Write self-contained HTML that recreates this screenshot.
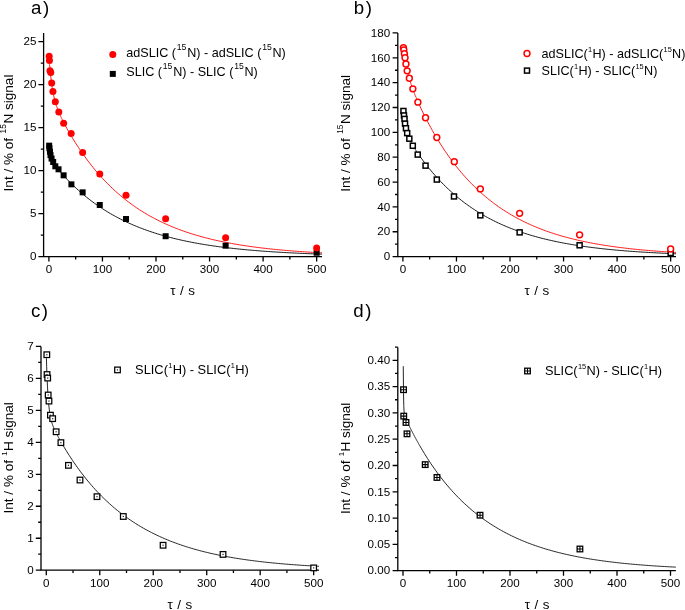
<!DOCTYPE html>
<html><head><meta charset="utf-8"><title>Figure</title><style>html,body{margin:0;padding:0;background:#fff}svg{display:block}</style></head><body>
<svg width="685" height="610" viewBox="0 0 685 610" font-family='"Liberation Sans", sans-serif' fill="#000">
<rect width="685" height="610" fill="#fff"/>
<path d="M43.6 33V256.6H322" fill="none" stroke="#000" stroke-width="1.3" stroke-linejoin="miter"/>
<path d="M48.9 256.6v5M102.45 256.6v5M156 256.6v5M209.55 256.6v5M263.1 256.6v5M316.65 256.6v5M75.67 256.6v2.8M129.22 256.6v2.8M182.78 256.6v2.8M236.32 256.6v2.8M289.88 256.6v2.8M43.6 256.6h-5.2M43.6 213.6h-5.2M43.6 170.6h-5.2M43.6 127.6h-5.2M43.6 84.6h-5.2M43.6 41.6h-5.2M43.6 235.1h-2.8M43.6 192.1h-2.8M43.6 149.1h-2.8M43.6 106.1h-2.8M43.6 63.1h-2.8" fill="none" stroke="#000" stroke-width="1.3"/>
<g font-size="11.4" text-anchor="middle">
<text transform="translate(48.9 273.3) scale(1.02 1)">0</text>
<text transform="translate(102.45 273.3) scale(1.02 1)">100</text>
<text transform="translate(156 273.3) scale(1.02 1)">200</text>
<text transform="translate(209.55 273.3) scale(1.02 1)">300</text>
<text transform="translate(263.1 273.3) scale(1.02 1)">400</text>
<text transform="translate(316.65 273.3) scale(1.02 1)">500</text>
</g>
<g font-size="11.4" text-anchor="end">
<text transform="translate(36.4 260.3) scale(1.02 1)">0</text>
<text transform="translate(36.4 217.3) scale(1.02 1)">5</text>
<text transform="translate(36.4 174.3) scale(1.02 1)">10</text>
<text transform="translate(36.4 131.3) scale(1.02 1)">15</text>
<text transform="translate(36.4 88.3) scale(1.02 1)">20</text>
<text transform="translate(36.4 45.3) scale(1.02 1)">25</text>
</g>
<polyline points="49.38,147.43 49.64,149.51 49.9,151.31 50.16,152.88 50.42,154.26 50.68,155.46 50.94,156.53 51.2,157.48 51.46,158.34 51.72,159.11 51.98,159.81 52.24,160.45 52.5,161.04 52.76,161.58 53.02,162.09 53.28,162.58 53.54,163.03 53.8,163.47 54.06,163.88 54.32,164.28 54.58,164.67 54.84,165.05 55.1,165.41 55.36,165.77 55.62,166.12 55.87,166.46 56.13,166.8 56.39,167.14 56.65,167.47 56.91,167.79 57.17,168.11 57.43,168.43 57.69,168.75 57.95,169.07 58.21,169.38 58.47,169.69 58.73,170 58.99,170.31 59.25,170.61 59.51,170.92 59.77,171.22 60.03,171.52 60.29,171.82 60.55,172.12 60.81,172.42 61.07,172.71 61.33,173.01 61.59,173.3 61.85,173.59 62.11,173.88 62.37,174.18 62.63,174.46 62.89,174.75 63.15,175.04 63.41,175.33 63.67,175.61 63.93,175.9 64.19,176.18 64.45,176.46 64.71,176.74 64.97,177.02 65.5,177.6 67.11,179.3 68.73,180.97 70.34,182.61 71.95,184.2 73.57,185.77 75.18,187.3 76.79,188.79 78.41,190.26 80.02,191.69 81.63,193.09 83.25,194.46 84.86,195.8 86.47,197.12 88.09,198.4 89.7,199.66 91.31,200.89 92.93,202.09 94.54,203.27 96.15,204.42 97.77,205.55 99.38,206.65 100.99,207.73 102.6,208.78 104.22,209.82 105.83,210.83 107.44,211.81 109.06,212.78 110.67,213.73 112.28,214.65 113.9,215.56 115.51,216.45 117.12,217.31 118.74,218.16 120.35,218.99 121.96,219.8 123.58,220.6 125.19,221.38 126.8,222.14 128.42,222.88 130.03,223.61 131.64,224.32 133.26,225.02 134.87,225.7 136.48,226.37 138.1,227.02 139.71,227.66 141.32,228.28 142.94,228.89 144.55,229.49 146.16,230.08 147.78,230.65 149.39,231.21 151,231.76 152.62,232.3 154.23,232.82 155.84,233.33 157.45,233.84 159.07,234.33 160.68,234.81 162.29,235.28 163.91,235.74 165.52,236.19 167.13,236.63 168.75,237.06 170.36,237.48 171.97,237.9 173.59,238.3 175.2,238.7 176.81,239.08 178.43,239.46 180.04,239.83 181.65,240.19 183.27,240.55 184.88,240.89 186.49,241.23 188.11,241.57 189.72,241.89 191.33,242.21 192.95,242.52 194.56,242.82 196.17,243.12 197.79,243.41 199.4,243.7 201.01,243.97 202.63,244.25 204.24,244.51 205.85,244.77 207.47,245.03 209.08,245.28 210.69,245.52 212.3,245.76 213.92,246 215.53,246.23 217.14,246.45 218.76,246.67 220.37,246.88 221.98,247.09 223.6,247.3 225.21,247.5 226.82,247.7 228.44,247.89 230.05,248.08 231.66,248.26 233.28,248.44 234.89,248.62 236.5,248.79 238.12,248.96 239.73,249.12 241.34,249.28 242.96,249.44 244.57,249.6 246.18,249.75 247.8,249.9 249.41,250.04 251.02,250.18 252.64,250.32 254.25,250.46 255.86,250.59 257.48,250.72 259.09,250.85 260.7,250.97 262.32,251.09 263.93,251.21 265.54,251.33 267.15,251.44 268.77,251.55 270.38,251.66 271.99,251.77 273.61,251.87 275.22,251.97 276.83,252.07 278.45,252.17 280.06,252.27 281.67,252.36 283.29,252.45 284.9,252.54 286.51,252.63 288.13,252.72 289.74,252.8 291.35,252.88 292.97,252.96 294.58,253.04 296.19,253.12 297.81,253.19 299.42,253.27 301.03,253.34 302.65,253.41 304.26,253.48 305.87,253.55 307.49,253.61 309.1,253.68 310.71,253.74 312.33,253.8 313.94,253.86 315.55,253.92 317.17,253.98 318.78,254.03 320.39,254.09 322,254.14" fill="none" stroke="#000" stroke-width="0.9"/>
<polyline points="49.38,61.3 49.64,64.6 49.9,67.67 50.16,70.52 50.42,73.18 50.68,75.66 50.94,77.98 51.2,80.15 51.46,82.19 51.72,84.09 51.98,85.89 52.24,87.57 52.5,89.17 52.76,90.67 53.02,92.09 53.28,93.43 53.54,94.71 53.8,95.92 54.06,97.08 54.32,98.18 54.58,99.24 54.84,100.25 55.1,101.21 55.36,102.14 55.62,103.04 55.87,103.9 56.13,104.74 56.39,105.54 56.65,106.33 56.91,107.09 57.17,107.82 57.43,108.54 57.69,109.24 57.95,109.92 58.21,110.59 58.47,111.24 58.73,111.88 58.99,112.51 59.25,113.13 59.51,113.73 59.77,114.33 60.03,114.91 60.29,115.49 60.55,116.06 60.81,116.63 61.07,117.18 61.33,117.73 61.59,118.27 61.85,118.81 62.11,119.34 62.37,119.87 62.63,120.39 62.89,120.91 63.15,121.42 63.41,121.93 63.67,122.44 63.93,122.94 64.19,123.43 64.45,123.93 64.71,124.42 64.97,124.91 65.5,125.91 67.11,128.84 68.73,131.7 70.34,134.47 71.95,137.18 73.57,139.82 75.18,142.4 76.79,144.92 78.41,147.39 80.02,149.8 81.63,152.15 83.25,154.46 84.86,156.71 86.47,158.92 88.09,161.07 89.7,163.18 91.31,165.24 92.93,167.26 94.54,169.23 96.15,171.16 97.77,173.04 99.38,174.89 100.99,176.69 102.6,178.45 104.22,180.18 105.83,181.87 107.44,183.52 109.06,185.13 110.67,186.71 112.28,188.25 113.9,189.76 115.51,191.23 117.12,192.67 118.74,194.08 120.35,195.46 121.96,196.81 123.58,198.13 125.19,199.42 126.8,200.68 128.42,201.92 130.03,203.13 131.64,204.31 133.26,205.46 134.87,206.59 136.48,207.69 138.1,208.77 139.71,209.83 141.32,210.86 142.94,211.87 144.55,212.86 146.16,213.82 147.78,214.76 149.39,215.69 151,216.59 152.62,217.47 154.23,218.34 155.84,219.18 157.45,220.01 159.07,220.82 160.68,221.6 162.29,222.38 163.91,223.13 165.52,223.87 167.13,224.59 168.75,225.3 170.36,225.99 171.97,226.67 173.59,227.33 175.2,227.97 176.81,228.6 178.43,229.22 180.04,229.83 181.65,230.42 183.27,230.99 184.88,231.56 186.49,232.11 188.11,232.65 189.72,233.18 191.33,233.7 192.95,234.2 194.56,234.7 196.17,235.18 197.79,235.65 199.4,236.12 201.01,236.57 202.63,237.01 204.24,237.44 205.85,237.87 207.47,238.28 209.08,238.68 210.69,239.08 212.3,239.47 213.92,239.84 215.53,240.21 217.14,240.57 218.76,240.93 220.37,241.27 221.98,241.61 223.6,241.94 225.21,242.27 226.82,242.58 228.44,242.89 230.05,243.19 231.66,243.49 233.28,243.78 234.89,244.06 236.5,244.34 238.12,244.61 239.73,244.87 241.34,245.13 242.96,245.39 244.57,245.63 246.18,245.88 247.8,246.11 249.41,246.34 251.02,246.57 252.64,246.79 254.25,247.01 255.86,247.22 257.48,247.43 259.09,247.63 260.7,247.83 262.32,248.02 263.93,248.21 265.54,248.4 267.15,248.58 268.77,248.75 270.38,248.93 271.99,249.1 273.61,249.26 275.22,249.42 276.83,249.58 278.45,249.74 280.06,249.89 281.67,250.04 283.29,250.18 284.9,250.32 286.51,250.46 288.13,250.6 289.74,250.73 291.35,250.86 292.97,250.99 294.58,251.11 296.19,251.23 297.81,251.35 299.42,251.46 301.03,251.58 302.65,251.69 304.26,251.8 305.87,251.9 307.49,252.01 309.1,252.11 310.71,252.21 312.33,252.3 313.94,252.4 315.55,252.49 317.17,252.58 318.78,252.67 320.39,252.76 322,252.84" fill="none" stroke="#ff0000" stroke-width="0.9"/>
<rect x="46.17" y="142.66" width="6" height="6" fill="#000"/>
<rect x="46.44" y="145.24" width="6" height="6" fill="#000"/>
<rect x="46.97" y="148.68" width="6" height="6" fill="#000"/>
<rect x="47.51" y="152.12" width="6" height="6" fill="#000"/>
<rect x="48.58" y="155.56" width="6" height="6" fill="#000"/>
<rect x="50.18" y="159" width="6" height="6" fill="#000"/>
<rect x="52.33" y="163.3" width="6" height="6" fill="#000"/>
<rect x="55.54" y="166.31" width="6" height="6" fill="#000"/>
<rect x="60.63" y="172.33" width="6" height="6" fill="#000"/>
<rect x="68.39" y="181.36" width="6" height="6" fill="#000"/>
<rect x="79.64" y="189.36" width="6" height="6" fill="#000"/>
<rect x="96.77" y="202" width="6" height="6" fill="#000"/>
<rect x="123.01" y="216.02" width="6" height="6" fill="#000"/>
<rect x="162.64" y="233.22" width="6" height="6" fill="#000"/>
<rect x="222.62" y="242.68" width="6" height="6" fill="#000"/>
<rect x="313.65" y="249.73" width="6" height="6" fill="#000"/>
<circle cx="49.17" cy="56.22" r="3.5" fill="#ff0000"/>
<circle cx="49.44" cy="60.52" r="3.5" fill="#ff0000"/>
<circle cx="49.97" cy="70.84" r="3.5" fill="#ff0000"/>
<circle cx="50.77" cy="72.56" r="3.5" fill="#ff0000"/>
<circle cx="51.68" cy="82.88" r="3.5" fill="#ff0000"/>
<circle cx="52.92" cy="91.48" r="3.5" fill="#ff0000"/>
<circle cx="55.33" cy="101.8" r="3.5" fill="#ff0000"/>
<circle cx="58.81" cy="112.12" r="3.5" fill="#ff0000"/>
<circle cx="63.63" cy="123.3" r="3.5" fill="#ff0000"/>
<circle cx="71.18" cy="133.62" r="3.5" fill="#ff0000"/>
<circle cx="82.64" cy="152.54" r="3.5" fill="#ff0000"/>
<circle cx="99.77" cy="174.04" r="3.5" fill="#ff0000"/>
<circle cx="126.01" cy="195.28" r="3.5" fill="#ff0000"/>
<circle cx="165.64" cy="218.76" r="3.5" fill="#ff0000"/>
<circle cx="225.62" cy="237.68" r="3.5" fill="#ff0000"/>
<circle cx="316.65" cy="248" r="3.5" fill="#ff0000"/>
<circle cx="112.8" cy="54.4" r="3.5" fill="#ff0000"/>
<rect x="109.8" y="70.9" width="6" height="6" fill="#000"/>
<text x="126.3" y="57.3" font-size="12.6">adSLIC (<tspan font-size="8.6" dy="-6.9" dx="0.8">15</tspan><tspan dy="6.9" dx="0.8">N) - adSLIC (</tspan><tspan font-size="8.6" dy="-6.9" dx="0.8">15</tspan><tspan dy="6.9" dx="0.8">N)</tspan></text>
<text x="126.3" y="76.3" font-size="12.6">SLIC (<tspan font-size="8.6" dy="-6.9" dx="0.8">15</tspan><tspan dy="6.9" dx="0.8">N) - SLIC (</tspan><tspan font-size="8.6" dy="-6.9" dx="0.8">15</tspan><tspan dy="6.9" dx="0.8">N)</tspan></text>
<text transform="translate(12.9 133) rotate(-90)" font-size="13.55" text-anchor="middle">Int / % of <tspan font-size="8.3" dy="-6.9" dx="0.7">15</tspan><tspan dy="6.9" dx="0.7">N signal</tspan></text>
<text x="182.7" y="294.8" font-size="13.4" text-anchor="middle" word-spacing="0.8">τ / s</text>
<text x="31.1" y="13.6" font-size="18.7" letter-spacing="1.6">a)</text>
<path d="M397.8 32.95V256.6H676" fill="none" stroke="#000" stroke-width="1.3" stroke-linejoin="miter"/>
<path d="M402.9 256.6v5M456.45 256.6v5M510 256.6v5M563.55 256.6v5M617.1 256.6v5M670.65 256.6v5M429.67 256.6v2.8M483.22 256.6v2.8M536.77 256.6v2.8M590.32 256.6v2.8M643.88 256.6v2.8M397.8 256.6h-5.2M397.8 231.75h-5.2M397.8 206.9h-5.2M397.8 182.05h-5.2M397.8 157.2h-5.2M397.8 132.35h-5.2M397.8 107.5h-5.2M397.8 82.65h-5.2M397.8 57.8h-5.2M397.8 32.95h-5.2M397.8 244.18h-2.8M397.8 219.33h-2.8M397.8 194.48h-2.8M397.8 169.63h-2.8M397.8 144.78h-2.8M397.8 119.93h-2.8M397.8 95.08h-2.8M397.8 70.23h-2.8M397.8 45.38h-2.8" fill="none" stroke="#000" stroke-width="1.3"/>
<g font-size="11.4" text-anchor="middle">
<text transform="translate(402.9 273.3) scale(1.02 1)">0</text>
<text transform="translate(456.45 273.3) scale(1.02 1)">100</text>
<text transform="translate(510 273.3) scale(1.02 1)">200</text>
<text transform="translate(563.55 273.3) scale(1.02 1)">300</text>
<text transform="translate(617.1 273.3) scale(1.02 1)">400</text>
<text transform="translate(670.65 273.3) scale(1.02 1)">500</text>
</g>
<g font-size="11.4" text-anchor="end">
<text transform="translate(390.1 260.3) scale(1.02 1)">0</text>
<text transform="translate(390.1 235.45) scale(1.02 1)">20</text>
<text transform="translate(390.1 210.6) scale(1.02 1)">40</text>
<text transform="translate(390.1 185.75) scale(1.02 1)">60</text>
<text transform="translate(390.1 160.9) scale(1.02 1)">80</text>
<text transform="translate(390.1 136.05) scale(1.02 1)">100</text>
<text transform="translate(390.1 111.2) scale(1.02 1)">120</text>
<text transform="translate(390.1 86.35) scale(1.02 1)">140</text>
<text transform="translate(390.1 61.5) scale(1.02 1)">160</text>
<text transform="translate(390.1 36.65) scale(1.02 1)">180</text>
</g>
<polyline points="403.38,111.01 403.64,113.45 403.9,115.67 404.16,117.72 404.42,119.6 404.68,121.33 404.94,122.93 405.2,124.41 405.46,125.79 405.72,127.06 405.98,128.25 406.24,129.36 406.5,130.41 406.76,131.39 407.02,132.31 407.28,133.18 407.54,134 407.8,134.78 408.06,135.53 408.32,136.24 408.58,136.92 408.84,137.57 409.1,138.2 409.36,138.81 409.62,139.39 409.87,139.96 410.13,140.51 410.39,141.04 410.65,141.57 410.91,142.07 411.17,142.57 411.43,143.06 411.69,143.54 411.95,144.01 412.21,144.47 412.47,144.92 412.73,145.37 412.99,145.81 413.25,146.25 413.51,146.68 413.77,147.1 414.03,147.52 414.29,147.94 414.55,148.35 414.81,148.76 415.07,149.17 415.33,149.57 415.59,149.97 415.85,150.37 416.11,150.76 416.37,151.16 416.63,151.55 416.89,151.93 417.15,152.32 417.41,152.7 417.67,153.08 417.93,153.46 418.19,153.84 418.45,154.21 418.71,154.59 418.96,154.96 419.5,155.72 421.11,157.97 422.73,160.17 424.34,162.32 425.95,164.42 427.57,166.47 429.18,168.47 430.79,170.43 432.41,172.35 434.02,174.22 435.63,176.05 437.25,177.84 438.86,179.59 440.47,181.3 442.09,182.98 443.7,184.61 445.31,186.21 446.93,187.78 448.54,189.31 450.15,190.81 451.77,192.27 453.38,193.7 454.99,195.1 456.6,196.46 458.22,197.8 459.83,199.11 461.44,200.39 463.06,201.64 464.67,202.86 466.28,204.05 467.9,205.22 469.51,206.36 471.12,207.48 472.74,208.57 474.35,209.64 475.96,210.68 477.58,211.7 479.19,212.7 480.8,213.68 482.42,214.63 484.03,215.57 485.64,216.48 487.26,217.37 488.87,218.24 490.48,219.09 492.1,219.93 493.71,220.74 495.32,221.54 496.94,222.32 498.55,223.08 500.16,223.83 501.78,224.56 503.39,225.27 505,225.96 506.62,226.65 508.23,227.31 509.84,227.96 511.45,228.6 513.07,229.22 514.68,229.83 516.29,230.43 517.91,231.01 519.52,231.58 521.13,232.13 522.75,232.68 524.36,233.21 525.97,233.73 527.59,234.24 529.2,234.73 530.81,235.22 532.43,235.7 534.04,236.16 535.65,236.61 537.27,237.06 538.88,237.49 540.49,237.92 542.11,238.33 543.72,238.74 545.33,239.14 546.95,239.52 548.56,239.9 550.17,240.28 551.79,240.64 553.4,240.99 555.01,241.34 556.63,241.68 558.24,242.01 559.85,242.34 561.47,242.65 563.08,242.96 564.69,243.27 566.3,243.56 567.92,243.85 569.53,244.14 571.14,244.41 572.76,244.68 574.37,244.95 575.98,245.21 577.6,245.46 579.21,245.71 580.82,245.95 582.44,246.19 584.05,246.42 585.66,246.65 587.28,246.87 588.89,247.08 590.5,247.29 592.12,247.5 593.73,247.7 595.34,247.9 596.96,248.09 598.57,248.28 600.18,248.47 601.8,248.65 603.41,248.83 605.02,249 606.64,249.17 608.25,249.33 609.86,249.49 611.48,249.65 613.09,249.81 614.7,249.96 616.32,250.11 617.93,250.25 619.54,250.39 621.15,250.53 622.77,250.66 624.38,250.8 625.99,250.93 627.61,251.05 629.22,251.17 630.83,251.3 632.45,251.41 634.06,251.53 635.67,251.64 637.29,251.75 638.9,251.86 640.51,251.96 642.13,252.07 643.74,252.17 645.35,252.27 646.97,252.36 648.58,252.46 650.19,252.55 651.81,252.64 653.42,252.73 655.03,252.81 656.65,252.9 658.26,252.98 659.87,253.06 661.49,253.14 663.1,253.22 664.71,253.29 666.33,253.37 667.94,253.44 669.55,253.51 671.17,253.58 672.78,253.64 674.39,253.71 676,253.77" fill="none" stroke="#000" stroke-width="0.9"/>
<polyline points="403.38,46.32 403.64,48.46 403.9,50.49 404.16,52.43 404.42,54.28 404.68,56.04 404.94,57.73 405.2,59.35 405.46,60.9 405.72,62.38 405.98,63.81 406.24,65.18 406.5,66.5 406.76,67.77 407.02,69 407.28,70.18 407.54,71.33 407.8,72.44 408.06,73.51 408.32,74.55 408.58,75.57 408.84,76.55 409.1,77.51 409.36,78.45 409.62,79.36 409.87,80.25 410.13,81.12 410.39,81.97 410.65,82.8 410.91,83.62 411.17,84.42 411.43,85.2 411.69,85.97 411.95,86.73 412.21,87.48 412.47,88.21 412.73,88.93 412.99,89.65 413.25,90.35 413.51,91.05 413.77,91.73 414.03,92.41 414.29,93.08 414.55,93.74 414.81,94.39 415.07,95.04 415.33,95.68 415.59,96.32 415.85,96.95 416.11,97.57 416.37,98.19 416.63,98.8 416.89,99.41 417.15,100.02 417.41,100.62 417.67,101.21 417.93,101.8 418.19,102.39 418.45,102.97 418.71,103.55 418.96,104.13 419.5,105.3 421.11,108.77 422.73,112.12 424.34,115.39 425.95,118.56 427.57,121.66 429.18,124.69 430.79,127.64 432.41,130.53 434.02,133.35 435.63,136.1 437.25,138.79 438.86,141.43 440.47,144 442.09,146.52 443.7,148.98 445.31,151.38 446.93,153.73 448.54,156.03 450.15,158.28 451.77,160.48 453.38,162.63 454.99,164.73 456.6,166.78 458.22,168.79 459.83,170.75 461.44,172.67 463.06,174.54 464.67,176.38 466.28,178.17 467.9,179.92 469.51,181.64 471.12,183.31 472.74,184.95 474.35,186.55 475.96,188.11 477.58,189.65 479.19,191.14 480.8,192.6 482.42,194.03 484.03,195.43 485.64,196.8 487.26,198.14 488.87,199.44 490.48,200.72 492.1,201.97 493.71,203.19 495.32,204.38 496.94,205.55 498.55,206.69 500.16,207.81 501.78,208.9 503.39,209.96 505,211 506.62,212.02 508.23,213.02 509.84,213.99 511.45,214.95 513.07,215.88 514.68,216.79 516.29,217.68 517.91,218.55 519.52,219.4 521.13,220.23 522.75,221.04 524.36,221.83 525.97,222.61 527.59,223.37 529.2,224.11 530.81,224.84 532.43,225.55 534.04,226.24 535.65,226.92 537.27,227.58 538.88,228.23 540.49,228.87 542.11,229.49 543.72,230.09 545.33,230.69 546.95,231.26 548.56,231.83 550.17,232.38 551.79,232.93 553.4,233.45 555.01,233.97 556.63,234.48 558.24,234.97 559.85,235.45 561.47,235.93 563.08,236.39 564.69,236.84 566.3,237.28 567.92,237.71 569.53,238.14 571.14,238.55 572.76,238.95 574.37,239.35 575.98,239.73 577.6,240.11 579.21,240.48 580.82,240.84 582.44,241.19 584.05,241.53 585.66,241.87 587.28,242.2 588.89,242.52 590.5,242.84 592.12,243.14 593.73,243.44 595.34,243.74 596.96,244.03 598.57,244.31 600.18,244.58 601.8,244.85 603.41,245.11 605.02,245.37 606.64,245.62 608.25,245.87 609.86,246.11 611.48,246.34 613.09,246.57 614.7,246.79 616.32,247.01 617.93,247.23 619.54,247.44 621.15,247.64 622.77,247.84 624.38,248.04 625.99,248.23 627.61,248.42 629.22,248.6 630.83,248.78 632.45,248.95 634.06,249.12 635.67,249.29 637.29,249.45 638.9,249.61 640.51,249.77 642.13,249.92 643.74,250.07 645.35,250.22 646.97,250.36 648.58,250.5 650.19,250.64 651.81,250.77 653.42,250.9 655.03,251.03 656.65,251.15 658.26,251.27 659.87,251.39 661.49,251.51 663.1,251.62 664.71,251.73 666.33,251.84 667.94,251.95 669.55,252.05 671.17,252.15 672.78,252.25 674.39,252.35 676,252.45" fill="none" stroke="#ff0000" stroke-width="0.9"/>
<rect x="400.94" y="108.48" width="5" height="5" fill="#fff" stroke="#000" stroke-width="1.5"/>
<rect x="401.47" y="112.95" width="5" height="5" fill="#fff" stroke="#000" stroke-width="1.5"/>
<rect x="402.01" y="116.43" width="5" height="5" fill="#fff" stroke="#000" stroke-width="1.5"/>
<rect x="402.54" y="121.15" width="5" height="5" fill="#fff" stroke="#000" stroke-width="1.5"/>
<rect x="403.45" y="125.75" width="5" height="5" fill="#fff" stroke="#000" stroke-width="1.5"/>
<rect x="404.68" y="130.6" width="5" height="5" fill="#fff" stroke="#000" stroke-width="1.5"/>
<rect x="406.83" y="136.19" width="5" height="5" fill="#fff" stroke="#000" stroke-width="1.5"/>
<rect x="410.31" y="143.27" width="5" height="5" fill="#fff" stroke="#000" stroke-width="1.5"/>
<rect x="415.23" y="152.09" width="5" height="5" fill="#fff" stroke="#000" stroke-width="1.5"/>
<rect x="423.05" y="163.15" width="5" height="5" fill="#fff" stroke="#000" stroke-width="1.5"/>
<rect x="434.3" y="177.07" width="5" height="5" fill="#fff" stroke="#000" stroke-width="1.5"/>
<rect x="451.49" y="193.96" width="5" height="5" fill="#fff" stroke="#000" stroke-width="1.5"/>
<rect x="477.83" y="212.85" width="5" height="5" fill="#fff" stroke="#000" stroke-width="1.5"/>
<rect x="517.14" y="229.87" width="5" height="5" fill="#fff" stroke="#000" stroke-width="1.5"/>
<rect x="577.12" y="242.79" width="5" height="5" fill="#fff" stroke="#000" stroke-width="1.5"/>
<rect x="668.15" y="250.5" width="5" height="5" fill="#fff" stroke="#000" stroke-width="1.5"/>
<circle cx="403.44" cy="47.61" r="2.95" fill="#fff" stroke="#ff0000" stroke-width="1.5"/>
<circle cx="403.81" cy="49.85" r="2.95" fill="#fff" stroke="#ff0000" stroke-width="1.5"/>
<circle cx="404.4" cy="53.82" r="2.95" fill="#fff" stroke="#ff0000" stroke-width="1.5"/>
<circle cx="405.04" cy="57.8" r="2.95" fill="#fff" stroke="#ff0000" stroke-width="1.5"/>
<circle cx="405.95" cy="64.01" r="2.95" fill="#fff" stroke="#ff0000" stroke-width="1.5"/>
<circle cx="407.18" cy="70.85" r="2.95" fill="#fff" stroke="#ff0000" stroke-width="1.5"/>
<circle cx="409.33" cy="78.3" r="2.95" fill="#fff" stroke="#ff0000" stroke-width="1.5"/>
<circle cx="412.86" cy="88.86" r="2.95" fill="#fff" stroke="#ff0000" stroke-width="1.5"/>
<circle cx="417.89" cy="102.16" r="2.95" fill="#fff" stroke="#ff0000" stroke-width="1.5"/>
<circle cx="425.55" cy="117.69" r="2.95" fill="#fff" stroke="#ff0000" stroke-width="1.5"/>
<circle cx="436.8" cy="137.44" r="2.95" fill="#fff" stroke="#ff0000" stroke-width="1.5"/>
<circle cx="454.31" cy="161.67" r="2.95" fill="#fff" stroke="#ff0000" stroke-width="1.5"/>
<circle cx="480.33" cy="188.88" r="2.95" fill="#fff" stroke="#ff0000" stroke-width="1.5"/>
<circle cx="519.64" cy="213.36" r="2.95" fill="#fff" stroke="#ff0000" stroke-width="1.5"/>
<circle cx="579.62" cy="234.86" r="2.95" fill="#fff" stroke="#ff0000" stroke-width="1.5"/>
<circle cx="670.65" cy="249.02" r="2.95" fill="#fff" stroke="#ff0000" stroke-width="1.5"/>
<circle cx="527" cy="53.55" r="2.95" fill="#fff" stroke="#ff0000" stroke-width="1.5"/>
<rect x="524.5" y="68.1" width="5" height="5" fill="#fff" stroke="#000" stroke-width="1.5"/>
<text x="541.6" y="57.6" font-size="12.6">adSLIC(<tspan font-size="7.4" dy="-6.0" dx="0.3">1</tspan><tspan dy="6.0" dx="0.3">H) - adSLIC(</tspan><tspan font-size="7.4" dy="-6.0" dx="0.3">15</tspan><tspan dy="6.0" dx="0.3">N)</tspan></text>
<text x="541.6" y="74.6" font-size="12.6">SLIC(<tspan font-size="7.4" dy="-6.0" dx="0.3">1</tspan><tspan dy="6.0" dx="0.3">H) - SLIC(</tspan><tspan font-size="7.4" dy="-6.0" dx="0.3">15</tspan><tspan dy="6.0" dx="0.3">N)</tspan></text>
<text transform="translate(350.2 133.4) rotate(-90)" font-size="13.55" text-anchor="middle">Int / % of <tspan font-size="8.3" dy="-6.9" dx="0.7">15</tspan><tspan dy="6.9" dx="0.7">N signal</tspan></text>
<text x="536.8" y="294.8" font-size="13.4" text-anchor="middle" word-spacing="0.8">τ / s</text>
<text x="353.7" y="13.6" font-size="18.7" letter-spacing="1.6">b)</text>
<path d="M41 346.41V570.2H319" fill="none" stroke="#000" stroke-width="1.3" stroke-linejoin="miter"/>
<path d="M46.3 570.2v5M99.77 570.2v5M153.24 570.2v5M206.71 570.2v5M260.18 570.2v5M313.65 570.2v5M73.03 570.2v2.8M126.5 570.2v2.8M179.97 570.2v2.8M233.44 570.2v2.8M286.91 570.2v2.8M41 570.2h-5.2M41 538.23h-5.2M41 506.26h-5.2M41 474.29h-5.2M41 442.32h-5.2M41 410.35h-5.2M41 378.38h-5.2M41 346.41h-5.2M41 554.22h-2.8M41 522.25h-2.8M41 490.28h-2.8M41 458.31h-2.8M41 426.34h-2.8M41 394.37h-2.8M41 362.4h-2.8" fill="none" stroke="#000" stroke-width="1.3"/>
<g font-size="11.4" text-anchor="middle">
<text transform="translate(46.3 586.9) scale(1.02 1)">0</text>
<text transform="translate(99.77 586.9) scale(1.02 1)">100</text>
<text transform="translate(153.24 586.9) scale(1.02 1)">200</text>
<text transform="translate(206.71 586.9) scale(1.02 1)">300</text>
<text transform="translate(260.18 586.9) scale(1.02 1)">400</text>
<text transform="translate(313.65 586.9) scale(1.02 1)">500</text>
</g>
<g font-size="11.4" text-anchor="end">
<text transform="translate(33.6 573.9) scale(1.02 1)">0</text>
<text transform="translate(33.6 541.93) scale(1.02 1)">1</text>
<text transform="translate(33.6 509.96) scale(1.02 1)">2</text>
<text transform="translate(33.6 477.99) scale(1.02 1)">3</text>
<text transform="translate(33.6 446.02) scale(1.02 1)">4</text>
<text transform="translate(33.6 414.05) scale(1.02 1)">5</text>
<text transform="translate(33.6 382.08) scale(1.02 1)">6</text>
<text transform="translate(33.6 350.11) scale(1.02 1)">7</text>
</g>
<polyline points="46.41,358.21 46.67,366.76 46.94,374.16 47.2,380.58 47.47,386.15 47.73,390.99 48,395.22 48.27,398.92 48.53,402.16 48.8,405.02 49.06,407.54 49.33,409.77 49.59,411.76 49.86,413.54 50.12,415.13 50.39,416.58 50.66,417.89 50.92,419.09 51.19,420.19 51.45,421.2 51.72,422.15 51.98,423.03 52.25,423.85 52.51,424.64 52.78,425.38 53.05,426.09 53.31,426.77 53.58,427.42 53.84,428.05 54.11,428.66 54.37,429.26 54.64,429.84 54.91,430.4 55.17,430.96 55.44,431.51 55.7,432.04 55.97,432.58 56.23,433.1 56.5,433.62 56.76,434.13 57.03,434.64 57.3,435.14 57.56,435.64 57.83,436.13 58.09,436.62 58.36,437.11 58.62,437.6 58.89,438.08 59.15,438.56 59.42,439.04 59.69,439.51 59.95,439.98 60.22,440.46 60.48,440.92 60.75,441.39 61.01,441.85 61.28,442.32 61.54,442.78 61.81,443.24 62.08,443.69 62.34,444.15 62.88,445.06 64.49,447.77 66.1,450.41 67.71,453 69.32,455.53 70.93,458 72.54,460.43 74.15,462.8 75.76,465.12 77.37,467.39 78.98,469.61 80.59,471.78 82.21,473.9 83.82,475.98 85.43,478.02 87.04,480.01 88.65,481.96 90.26,483.86 91.87,485.73 93.48,487.55 95.09,489.33 96.7,491.08 98.31,492.79 99.92,494.46 101.54,496.1 103.15,497.7 104.76,499.26 106.37,500.79 107.98,502.29 109.59,503.76 111.2,505.19 112.81,506.6 114.42,507.97 116.03,509.31 117.64,510.63 119.25,511.92 120.87,513.17 122.48,514.41 124.09,515.61 125.7,516.79 127.31,517.94 128.92,519.07 130.53,520.17 132.14,521.26 133.75,522.31 135.36,523.35 136.97,524.36 138.58,525.35 140.2,526.32 141.81,527.26 143.42,528.19 145.03,529.1 146.64,529.99 148.25,530.85 149.86,531.7 151.47,532.54 153.08,533.35 154.69,534.14 156.3,534.92 157.91,535.68 159.53,536.43 161.14,537.16 162.75,537.87 164.36,538.57 165.97,539.25 167.58,539.92 169.19,540.58 170.8,541.22 172.41,541.84 174.02,542.45 175.63,543.05 177.24,543.64 178.86,544.21 180.47,544.77 182.08,545.32 183.69,545.86 185.3,546.39 186.91,546.9 188.52,547.4 190.13,547.9 191.74,548.38 193.35,548.85 194.96,549.31 196.57,549.76 198.19,550.2 199.8,550.63 201.41,551.06 203.02,551.47 204.63,551.87 206.24,552.27 207.85,552.66 209.46,553.04 211.07,553.41 212.68,553.77 214.29,554.12 215.9,554.47 217.51,554.81 219.13,555.14 220.74,555.47 222.35,555.79 223.96,556.1 225.57,556.4 227.18,556.7 228.79,556.99 230.4,557.28 232.01,557.56 233.62,557.83 235.23,558.1 236.84,558.36 238.46,558.61 240.07,558.86 241.68,559.11 243.29,559.35 244.9,559.58 246.51,559.81 248.12,560.04 249.73,560.25 251.34,560.47 252.95,560.68 254.56,560.89 256.17,561.09 257.79,561.28 259.4,561.48 261.01,561.66 262.62,561.85 264.23,562.03 265.84,562.21 267.45,562.38 269.06,562.55 270.67,562.71 272.28,562.87 273.89,563.03 275.5,563.19 277.12,563.34 278.73,563.49 280.34,563.63 281.95,563.77 283.56,563.91 285.17,564.05 286.78,564.18 288.39,564.31 290,564.44 291.61,564.56 293.22,564.68 294.83,564.8 296.45,564.92 298.06,565.03 299.67,565.15 301.28,565.25 302.89,565.36 304.5,565.47 306.11,565.57 307.72,565.67 309.33,565.77 310.94,565.86 312.55,565.96 314.16,566.05 315.78,566.14 317.39,566.22 319,566.31" fill="none" stroke="#000" stroke-width="0.85"/>
<rect x="44.03" y="351.92" width="5.6" height="5.6" fill="#fff" stroke="#000" stroke-width="1.25"/><rect x="46.23" y="354.12" width="1.2" height="1.2" fill="#222"/>
<rect x="44.25" y="371.74" width="5.6" height="5.6" fill="#fff" stroke="#000" stroke-width="1.25"/><rect x="46.45" y="373.94" width="1.2" height="1.2" fill="#222"/>
<rect x="44.89" y="375.26" width="5.6" height="5.6" fill="#fff" stroke="#000" stroke-width="1.25"/><rect x="47.09" y="377.46" width="1.2" height="1.2" fill="#222"/>
<rect x="45.37" y="392.2" width="5.6" height="5.6" fill="#fff" stroke="#000" stroke-width="1.25"/><rect x="47.57" y="394.4" width="1.2" height="1.2" fill="#222"/>
<rect x="46.17" y="398.28" width="5.6" height="5.6" fill="#fff" stroke="#000" stroke-width="1.25"/><rect x="48.37" y="400.48" width="1.2" height="1.2" fill="#222"/>
<rect x="47.62" y="412.35" width="5.6" height="5.6" fill="#fff" stroke="#000" stroke-width="1.25"/><rect x="49.82" y="414.55" width="1.2" height="1.2" fill="#222"/>
<rect x="49.86" y="415.86" width="5.6" height="5.6" fill="#fff" stroke="#000" stroke-width="1.25"/><rect x="52.06" y="418.06" width="1.2" height="1.2" fill="#222"/>
<rect x="53.34" y="428.97" width="5.6" height="5.6" fill="#fff" stroke="#000" stroke-width="1.25"/><rect x="55.54" y="431.17" width="1.2" height="1.2" fill="#222"/>
<rect x="58.1" y="439.84" width="5.6" height="5.6" fill="#fff" stroke="#000" stroke-width="1.25"/><rect x="60.3" y="442.04" width="1.2" height="1.2" fill="#222"/>
<rect x="65.64" y="462.54" width="5.6" height="5.6" fill="#fff" stroke="#000" stroke-width="1.25"/><rect x="67.84" y="464.74" width="1.2" height="1.2" fill="#222"/>
<rect x="77.19" y="477.24" width="5.6" height="5.6" fill="#fff" stroke="#000" stroke-width="1.25"/><rect x="79.39" y="479.44" width="1.2" height="1.2" fill="#222"/>
<rect x="94.19" y="493.87" width="5.6" height="5.6" fill="#fff" stroke="#000" stroke-width="1.25"/><rect x="96.39" y="496.07" width="1.2" height="1.2" fill="#222"/>
<rect x="120.5" y="513.69" width="5.6" height="5.6" fill="#fff" stroke="#000" stroke-width="1.25"/><rect x="122.7" y="515.89" width="1.2" height="1.2" fill="#222"/>
<rect x="160.28" y="542.46" width="5.6" height="5.6" fill="#fff" stroke="#000" stroke-width="1.25"/><rect x="162.48" y="544.66" width="1.2" height="1.2" fill="#222"/>
<rect x="220.22" y="551.61" width="5.6" height="5.6" fill="#fff" stroke="#000" stroke-width="1.25"/><rect x="222.42" y="553.81" width="1.2" height="1.2" fill="#222"/>
<rect x="310.85" y="565.1" width="5.6" height="5.6" fill="#fff" stroke="#000" stroke-width="1.25"/><rect x="313.05" y="567.3" width="1.2" height="1.2" fill="#222"/>
<rect x="114.7" y="367.1" width="5.6" height="5.6" fill="#fff" stroke="#000" stroke-width="1.25"/><rect x="116.9" y="369.3" width="1.2" height="1.2" fill="#222"/>
<text x="135.1" y="374.3" font-size="12.85">SLIC(<tspan font-size="7.4" dy="-6.0" dx="0.3">1</tspan><tspan dy="6.0" dx="0.3">H) - SLIC(</tspan><tspan font-size="7.4" dy="-6.0" dx="0.3">1</tspan><tspan dy="6.0" dx="0.3">H)</tspan></text>
<text transform="translate(13.1 457.8) rotate(-90)" font-size="13.55" text-anchor="middle">Int / % of <tspan font-size="7.8" dy="-6.4" dx="0.4">1</tspan><tspan dy="6.4" dx="0.4">H signal</tspan></text>
<text x="179.8" y="608.7" font-size="13.4" text-anchor="middle" word-spacing="0.8">τ / s</text>
<text x="30.9" y="316.9" font-size="18.7" letter-spacing="1.6">c)</text>
<path d="M397.8 347.15V570.7H675.85" fill="none" stroke="#000" stroke-width="1.3" stroke-linejoin="miter"/>
<path d="M403 570.7v5M456.5 570.7v5M510 570.7v5M563.5 570.7v5M617 570.7v5M670.5 570.7v5M429.75 570.7v2.8M483.25 570.7v2.8M536.75 570.7v2.8M590.25 570.7v2.8M643.75 570.7v2.8M397.8 570.7h-5.2M397.8 544.4h-5.2M397.8 518.1h-5.2M397.8 491.8h-5.2M397.8 465.5h-5.2M397.8 439.2h-5.2M397.8 412.9h-5.2M397.8 386.6h-5.2M397.8 360.3h-5.2M397.8 557.55h-2.8M397.8 531.25h-2.8M397.8 504.95h-2.8M397.8 478.65h-2.8M397.8 452.35h-2.8M397.8 426.05h-2.8M397.8 399.75h-2.8M397.8 373.45h-2.8M397.8 347.15h-2.8" fill="none" stroke="#000" stroke-width="1.3"/>
<g font-size="11.4" text-anchor="middle">
<text transform="translate(403 587.4) scale(1.02 1)">0</text>
<text transform="translate(456.5 587.4) scale(1.02 1)">100</text>
<text transform="translate(510 587.4) scale(1.02 1)">200</text>
<text transform="translate(563.5 587.4) scale(1.02 1)">300</text>
<text transform="translate(617 587.4) scale(1.02 1)">400</text>
<text transform="translate(670.5 587.4) scale(1.02 1)">500</text>
</g>
<g font-size="11.4" text-anchor="end">
<text transform="translate(390.1 574.4) scale(1.02 1)">0.00</text>
<text transform="translate(390.1 548.1) scale(1.02 1)">0.05</text>
<text transform="translate(390.1 521.8) scale(1.02 1)">0.10</text>
<text transform="translate(390.1 495.5) scale(1.02 1)">0.15</text>
<text transform="translate(390.1 469.2) scale(1.02 1)">0.20</text>
<text transform="translate(390.1 442.9) scale(1.02 1)">0.25</text>
<text transform="translate(390.1 416.6) scale(1.02 1)">0.30</text>
<text transform="translate(390.1 390.3) scale(1.02 1)">0.35</text>
<text transform="translate(390.1 364) scale(1.02 1)">0.40</text>
</g>
<polyline points="403.26,366.19 403.52,393.22 403.78,405.44 404.05,411.14 404.31,413.97 404.57,415.53 404.84,416.53 405.1,417.29 405.36,417.93 405.63,418.52 405.89,419.1 406.15,419.66 406.42,420.21 406.68,420.76 406.94,421.31 407.21,421.86 407.47,422.4 407.73,422.94 407.99,423.48 408.26,424.02 408.52,424.55 408.78,425.09 409.05,425.62 409.31,426.15 409.57,426.68 409.84,427.2 410.1,427.73 410.36,428.25 410.63,428.77 410.89,429.29 411.15,429.8 411.42,430.32 411.68,430.83 411.94,431.34 412.21,431.85 412.47,432.36 412.73,432.86 413,433.37 413.26,433.87 413.52,434.37 413.79,434.87 414.05,435.36 414.31,435.86 414.58,436.35 414.84,436.84 415.1,437.33 415.36,437.81 415.63,438.3 415.89,438.78 416.15,439.26 416.42,439.74 416.68,440.22 416.94,440.7 417.21,441.17 417.47,441.65 417.73,442.12 418,442.59 418.26,443.05 418.52,443.52 418.79,443.99 419.05,444.45 419.58,445.38 421.2,448.16 422.81,450.87 424.42,453.53 426.03,456.12 427.64,458.66 429.26,461.14 430.87,463.57 432.48,465.94 434.09,468.26 435.7,470.53 437.31,472.75 438.93,474.92 440.54,477.04 442.15,479.11 443.76,481.14 445.37,483.13 446.98,485.07 448.6,486.96 450.21,488.82 451.82,490.63 453.43,492.41 455.04,494.14 456.65,495.84 458.27,497.49 459.88,499.11 461.49,500.7 463.1,502.25 464.71,503.77 466.33,505.25 467.94,506.7 469.55,508.12 471.16,509.5 472.77,510.86 474.38,512.18 476,513.48 477.61,514.75 479.22,515.99 480.83,517.2 482.44,518.38 484.05,519.54 485.67,520.68 487.28,521.78 488.89,522.87 490.5,523.93 492.11,524.96 493.72,525.98 495.34,526.97 496.95,527.93 498.56,528.88 500.17,529.81 501.78,530.71 503.39,531.6 505.01,532.47 506.62,533.31 508.23,534.14 509.84,534.95 511.45,535.74 513.07,536.52 514.68,537.27 516.29,538.01 517.9,538.74 519.51,539.45 521.12,540.14 522.74,540.82 524.35,541.48 525.96,542.12 527.57,542.76 529.18,543.38 530.79,543.98 532.41,544.57 534.02,545.15 535.63,545.72 537.24,546.27 538.85,546.81 540.46,547.34 542.08,547.86 543.69,548.36 545.3,548.86 546.91,549.34 548.52,549.82 550.14,550.28 551.75,550.73 553.36,551.17 554.97,551.61 556.58,552.03 558.19,552.44 559.81,552.85 561.42,553.24 563.03,553.63 564.64,554.01 566.25,554.38 567.86,554.74 569.48,555.09 571.09,555.44 572.7,555.78 574.31,556.11 575.92,556.43 577.53,556.75 579.15,557.05 580.76,557.36 582.37,557.65 583.98,557.94 585.59,558.22 587.2,558.5 588.82,558.77 590.43,559.03 592.04,559.29 593.65,559.55 595.26,559.79 596.88,560.03 598.49,560.27 600.1,560.5 601.71,560.73 603.32,560.95 604.93,561.16 606.55,561.38 608.16,561.58 609.77,561.78 611.38,561.98 612.99,562.17 614.6,562.36 616.22,562.55 617.83,562.73 619.44,562.91 621.05,563.08 622.66,563.25 624.27,563.41 625.89,563.57 627.5,563.73 629.11,563.89 630.72,564.04 632.33,564.18 633.95,564.33 635.56,564.47 637.17,564.61 638.78,564.74 640.39,564.87 642,565 643.62,565.13 645.23,565.25 646.84,565.37 648.45,565.49 650.06,565.61 651.67,565.72 653.29,565.83 654.9,565.94 656.51,566.04 658.12,566.15 659.73,566.25 661.34,566.35 662.96,566.44 664.57,566.54 666.18,566.63 667.79,566.72 669.4,566.81 671.01,566.89 672.63,566.98 674.24,567.06 675.85,567.14" fill="none" stroke="#000" stroke-width="0.85"/>
<rect x="400.74" y="386.9" width="5.6" height="5.6" fill="#fff" stroke="#000" stroke-width="1.3"/><path d="M400.74 389.7h5.6M403.54 386.9v5.6" stroke="#000" stroke-width="1.05"/>
<rect x="400.95" y="413.3" width="5.6" height="5.6" fill="#fff" stroke="#000" stroke-width="1.3"/><path d="M400.95 416.1h5.6M403.75 413.3v5.6" stroke="#000" stroke-width="1.05"/>
<rect x="403.2" y="419.64" width="5.6" height="5.6" fill="#fff" stroke="#000" stroke-width="1.3"/><path d="M403.2 422.44h5.6M406 419.64v5.6" stroke="#000" stroke-width="1.05"/>
<rect x="404.21" y="431.04" width="5.6" height="5.6" fill="#fff" stroke="#000" stroke-width="1.3"/><path d="M404.21 433.84h5.6M407.01 431.04v5.6" stroke="#000" stroke-width="1.05"/>
<rect x="422.4" y="461.82" width="5.6" height="5.6" fill="#fff" stroke="#000" stroke-width="1.3"/><path d="M422.4 464.62h5.6M425.2 461.82v5.6" stroke="#000" stroke-width="1.05"/>
<rect x="434.17" y="474.66" width="5.6" height="5.6" fill="#fff" stroke="#000" stroke-width="1.3"/><path d="M434.17 477.46h5.6M436.97 474.66v5.6" stroke="#000" stroke-width="1.05"/>
<rect x="477.24" y="512.41" width="5.6" height="5.6" fill="#fff" stroke="#000" stroke-width="1.3"/><path d="M477.24 515.21h5.6M480.04 512.41v5.6" stroke="#000" stroke-width="1.05"/>
<rect x="577.12" y="546.2" width="5.6" height="5.6" fill="#fff" stroke="#000" stroke-width="1.3"/><path d="M577.12 549h5.6M579.92 546.2v5.6" stroke="#000" stroke-width="1.05"/>
<rect x="524.7" y="368.2" width="5.6" height="5.6" fill="#fff" stroke="#000" stroke-width="1.3"/><path d="M524.7 371h5.6M527.5 368.2v5.6" stroke="#000" stroke-width="1.05"/>
<text x="545.0" y="375.1" font-size="12.75">SLIC(<tspan font-size="7.4" dy="-6.0" dx="0.3">15</tspan><tspan dy="6.0" dx="0.3">N) - SLIC(</tspan><tspan font-size="7.4" dy="-6.0" dx="0.3">1</tspan><tspan dy="6.0" dx="0.3">H)</tspan></text>
<text transform="translate(350.2 458.3) rotate(-90)" font-size="13.55" text-anchor="middle">Int / % of <tspan font-size="7.8" dy="-6.4" dx="0.4">1</tspan><tspan dy="6.4" dx="0.4">H signal</tspan></text>
<text x="537" y="609.2" font-size="13.4" text-anchor="middle" word-spacing="0.8">τ / s</text>
<text x="353.2" y="316.9" font-size="18.7" letter-spacing="1.6">d)</text>
</svg></body></html>
